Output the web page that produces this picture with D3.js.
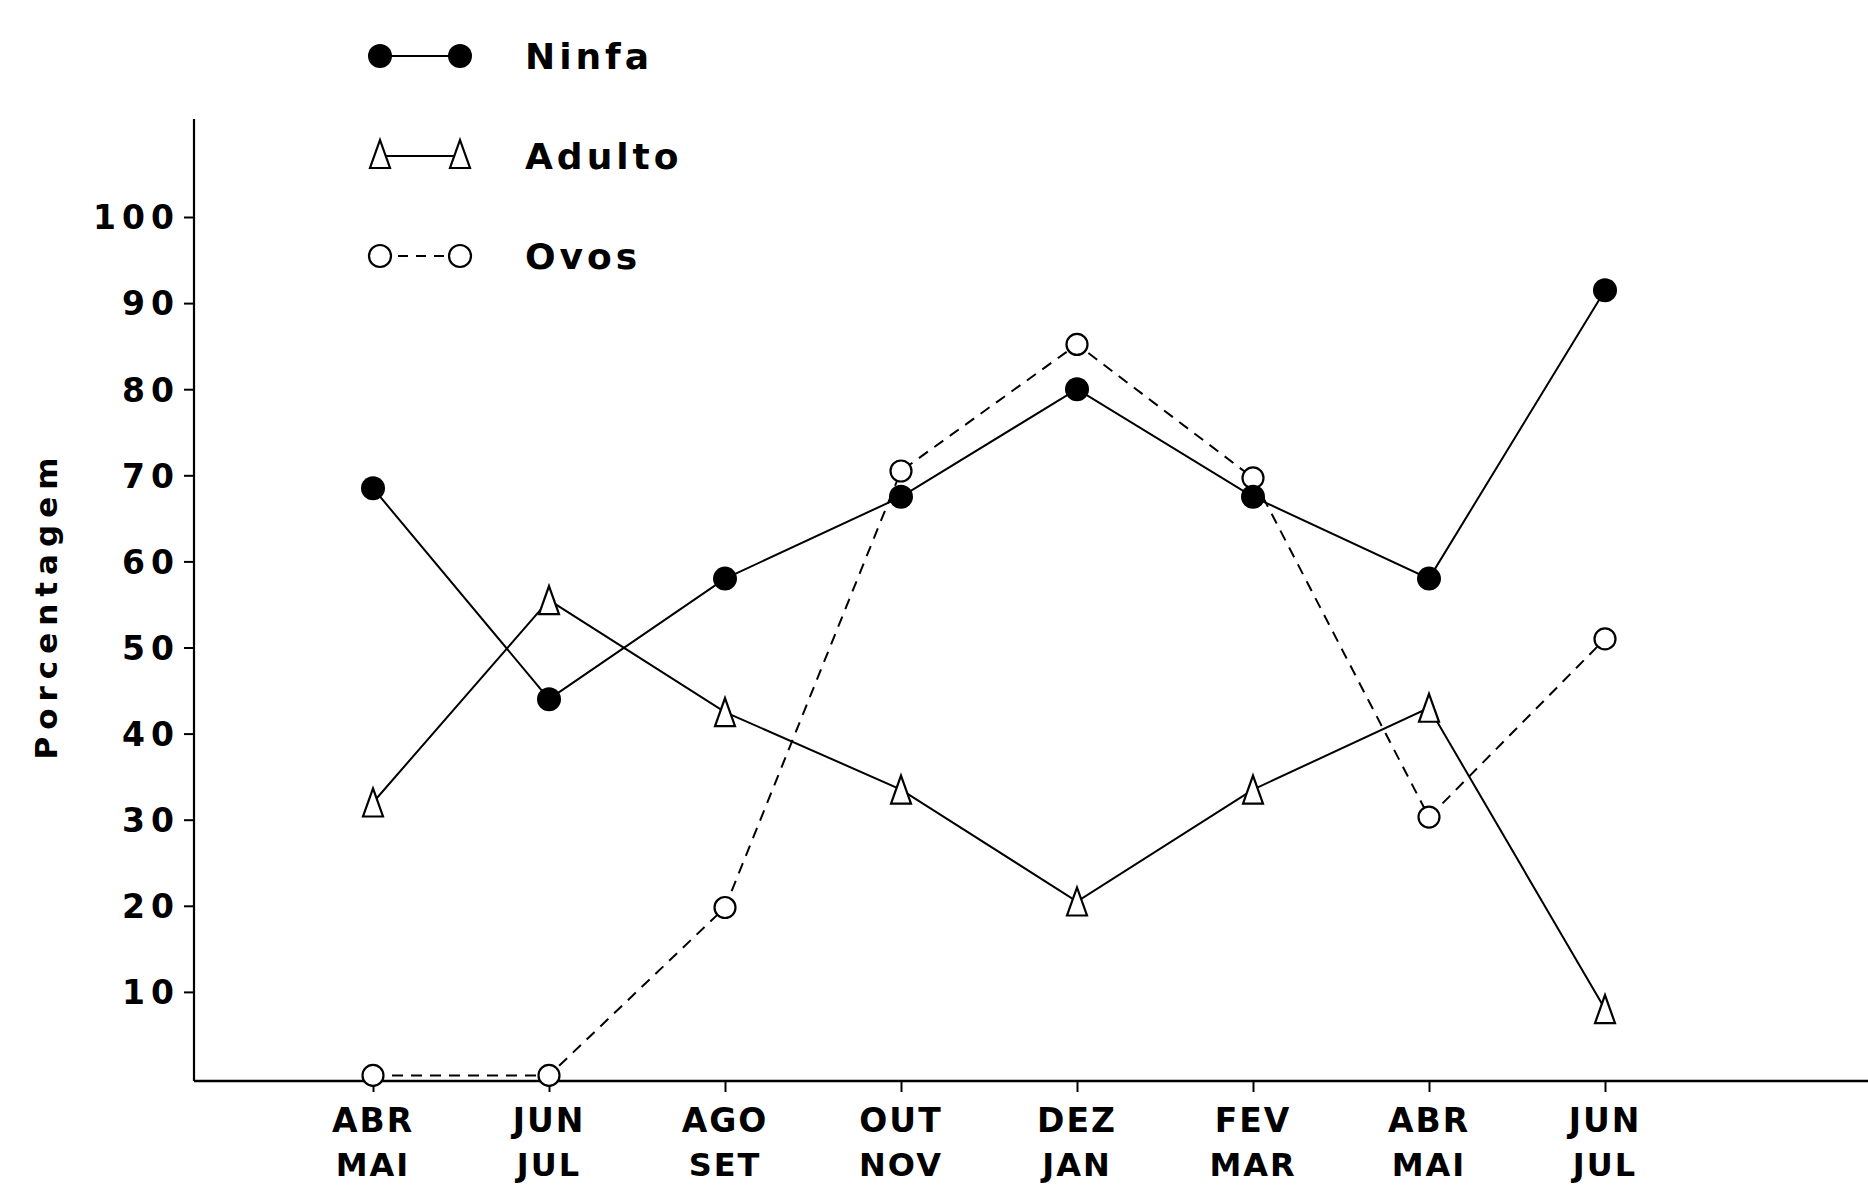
<!DOCTYPE html>
<html>
<head>
<meta charset="utf-8">
<script src="https://cdn.jsdelivr.net/npm/d3@7"></script>
<style>
  html, body { margin: 0; padding: 0; background: #fff; }
  svg { display: block; }
  text { font-family: "DejaVu Sans", sans-serif; fill: #000; }
</style>
</head>
<body>
<div id="chart"></div>
<script>
// Two-month periods on the x axis (top / bottom line of each label)
var periodTop = ['ABR', 'JUN', 'AGO', 'OUT', 'DEZ', 'FEV', 'ABR', 'JUN'];
var periodBottom = ['MAI', 'JUL', 'SET', 'NOV', 'JAN', 'MAR', 'MAI', 'JUL'];

// Percentages
var ninfa = [68.5, 44, 58, 67.5, 80, 67.5, 58, 91.5];
var adulto = [32, 55.5, 42.5, 33.5, 20.5, 33.5, 43, 8];
var ovos = [0.3, 0.3, 19.8, 70.5, 85.2, 69.7, 30.3, 51];

var yTicks = [10, 20, 30, 40, 50, 60, 70, 80, 90, 100];

var width = 1868, height = 1185;

var svg = d3.select('#chart').append('svg')
    .attr('width', width)
    .attr('height', height);

var xScale = d3.scalePoint()
    .domain(d3.range(periodTop.length))
    .range([373, 1605]);

var yScale = d3.scaleLinear()
    .domain([0, 100])
    .range([1078, 217]);

var axisX0 = 194, axisY0 = 1081;

// axes lines
svg.append('line')
    .attr('x1', axisX0).attr('x2', axisX0)
    .attr('y1', 119).attr('y2', axisY0)
    .attr('stroke', '#000').attr('stroke-width', 2.2);

svg.append('line')
    .attr('x1', axisX0).attr('x2', width)
    .attr('y1', axisY0).attr('y2', axisY0)
    .attr('stroke', '#000').attr('stroke-width', 2.6);

// y axis ticks
var yAxis = svg.append('g')
    .attr('transform', 'translate(' + axisX0 + ',0)')
    .call(d3.axisLeft(yScale).tickValues(yTicks).tickSize(10).tickPadding(4));
yAxis.select('.domain').remove();
yAxis.selectAll('.tick line').attr('stroke', '#000').attr('stroke-width', 2);
yAxis.selectAll('.tick text')
    .attr('font-size', 33)
    .attr('letter-spacing', 6)
    .attr('font-weight', 'bold')
    .attr('font-family', '"DejaVu Sans", sans-serif')
    .attr('dy', '0.36em')
    .attr('fill', '#000');

// x axis ticks and two-line labels
var xAxis = svg.append('g')
    .attr('transform', 'translate(0,' + axisY0 + ')')
    .call(d3.axisBottom(xScale).tickSize(11).tickFormat(''));
xAxis.select('.domain').remove();
xAxis.selectAll('.tick line').attr('stroke', '#000').attr('stroke-width', 2);

var xLabels = svg.append('g').selectAll('g')
    .data(d3.range(periodTop.length))
    .enter().append('g')
    .attr('transform', function(i) { return 'translate(' + xScale(i) + ',0)'; });

xLabels.append('text')
    .attr('y', 1132)
    .attr('text-anchor', 'middle')
    .attr('font-size', 33)
    .attr('font-weight', 'bold')
    .attr('letter-spacing', 2)
    .text(function(i) { return periodTop[i]; });

xLabels.append('text')
    .attr('y', 1176)
    .attr('text-anchor', 'middle')
    .attr('font-size', 32)
    .attr('font-weight', 'bold')
    .attr('letter-spacing', 2)
    .text(function(i) { return periodBottom[i]; });

// y axis title
svg.append('text')
    .attr('transform', 'translate(57,605) rotate(-90)')
    .attr('text-anchor', 'middle')
    .attr('font-size', 31)
    .attr('font-weight', 'bold')
    .attr('letter-spacing', 7)
    .text('Porcentagem');

var line = d3.line()
    .x(function(d, i) { return xScale(i); })
    .y(function(d) { return yScale(d); });

// marker helpers
function triPath(cx, cy) {
    var w = 10, h = 28;
    return 'M' + cx + ',' + (cy - h / 2) +
        'L' + (cx + w) + ',' + (cy + h / 2) +
        'L' + (cx - w) + ',' + (cy + h / 2) + 'Z';
}

// Ovos (dashed, open circles)
svg.append('path')
    .datum(ovos)
    .attr('fill', 'none')
    .attr('stroke', '#000')
    .attr('stroke-width', 2)
    .attr('stroke-dasharray', '11,8')
    .attr('d', line);

// Adulto (solid, open triangles)
svg.append('path')
    .datum(adulto)
    .attr('fill', 'none')
    .attr('stroke', '#000')
    .attr('stroke-width', 2)
    .attr('d', line);

// Ninfa (solid, filled circles)
svg.append('path')
    .datum(ninfa)
    .attr('fill', 'none')
    .attr('stroke', '#000')
    .attr('stroke-width', 2)
    .attr('d', line);

svg.selectAll('.ovo')
    .data(ovos)
    .enter().append('circle')
    .attr('class', 'ovo')
    .attr('cx', function(d, i) { return xScale(i); })
    .attr('cy', function(d) { return yScale(d); })
    .attr('r', 10.5)
    .attr('fill', '#fff')
    .attr('stroke', '#000')
    .attr('stroke-width', 2.2);

svg.selectAll('.adulto')
    .data(adulto)
    .enter().append('path')
    .attr('class', 'adulto')
    .attr('d', function(d, i) { return triPath(xScale(i), yScale(d)); })
    .attr('fill', '#fff')
    .attr('stroke', '#000')
    .attr('stroke-width', 2.2);

svg.selectAll('.ninfa')
    .data(ninfa)
    .enter().append('circle')
    .attr('class', 'ninfa')
    .attr('cx', function(d, i) { return xScale(i); })
    .attr('cy', function(d) { return yScale(d); })
    .attr('r', 12)
    .attr('fill', '#000');

// legend
var legendItems = [
    {name: 'Ninfa', y: 56, marker: 'filled', dash: null},
    {name: 'Adulto', y: 156, marker: 'triangle', dash: null},
    {name: 'Ovos', y: 256, marker: 'open', dash: '10,8'}
];

var legend = svg.append('g');
legendItems.forEach(function(item) {
    legend.append('line')
        .attr('x1', 380).attr('x2', 460)
        .attr('y1', item.y).attr('y2', item.y)
        .attr('stroke', '#000').attr('stroke-width', 2)
        .attr('stroke-dasharray', item.dash);
    [380, 460].forEach(function(cx) {
        if (item.marker === 'filled') {
            legend.append('circle').attr('cx', cx).attr('cy', item.y)
                .attr('r', 12).attr('fill', '#000');
        } else if (item.marker === 'open') {
            legend.append('circle').attr('cx', cx).attr('cy', item.y)
                .attr('r', 11).attr('fill', '#fff')
                .attr('stroke', '#000').attr('stroke-width', 2.2);
        } else {
            legend.append('path').attr('d', triPath(cx, item.y - 2))
                .attr('fill', '#fff')
                .attr('stroke', '#000').attr('stroke-width', 2.2);
        }
    });
    legend.append('text')
        .attr('x', 525).attr('y', item.y)
        .attr('dy', '0.36em')
        .attr('font-size', 36)
        .attr('font-weight', 'bold')
        .attr('letter-spacing', 4)
        .text(item.name);
});
</script>
</body>
</html>
